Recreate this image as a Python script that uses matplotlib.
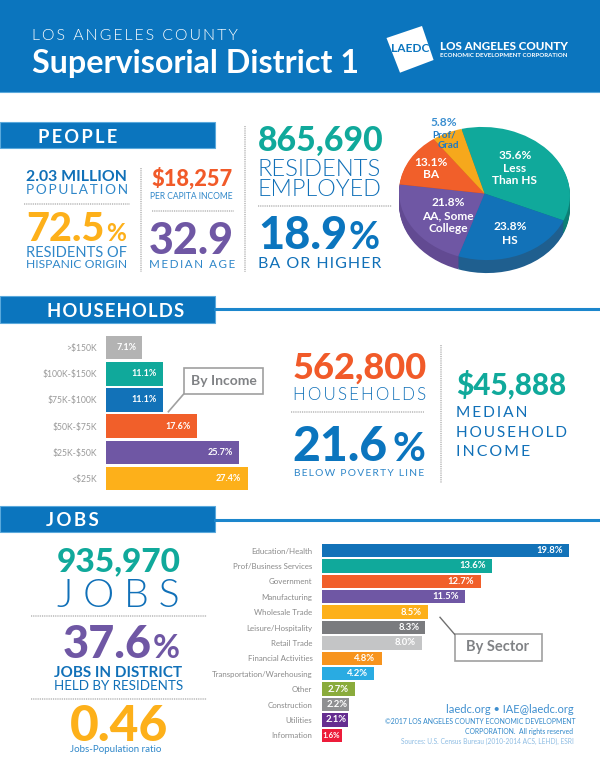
import matplotlib
matplotlib.use("Agg")
import matplotlib.pyplot as plt
from matplotlib.patches import Rectangle, Polygon
from matplotlib.transforms import Affine2D

FAM = ['Lato', 'DejaVu Sans']
plt.rcParams['font.family'] = FAM

BLUE = '#0B75BE'; LBLUE = '#2F87C9'; TEAL = '#10A99B'; ORANGE = '#F15A29'
PURPLE = '#6F57A4'; YELLOW = '#FDB01A'; GRAY = '#808285'

edu_labels = ['Less\nThan HS', 'HS', 'AA, Some\nCollege', 'BA', 'Prof/\nGrad']
edu_values = [35.6, 23.8, 21.8, 13.1, 5.8]
edu_colors = [TEAL, '#1272B8', PURPLE, '#F15F2A', '#F6A81C']
edu_dark = ['#0C7F75', '#1F5F8F', '#624A92', '#B5461F', '#B97E14']

income_labels = ['>\\$150K', '\\$100K-\\$150K', '\\$75K-\\$100K', '\\$50K-\\$75K', '\\$25K-\\$50K', '<\\$25K']
income_values = [7.1, 11.1, 11.1, 17.6, 25.7, 27.4]
income_colors = ['#B3B3B3', TEAL, '#1272B8', '#F15F2A', PURPLE, YELLOW]

sector_labels = ['Education/Health', 'Prof/Business Services', 'Government', 'Manufacturing',
                 'Wholesale Trade', 'Leisure/Hospitality', 'Retail Trade', 'Financial Activities',
                 'Transportation/Warehousing', 'Other', 'Construction', 'Utilities', 'Information']
sector_values = [19.8, 13.6, 12.7, 11.5, 8.5, 8.3, 8.0, 4.8, 4.2, 2.7, 2.2, 2.1, 1.6]
sector_colors = ['#1272B8', TEAL, '#F15F2A', PURPLE, YELLOW, '#7A7B7E', '#C4C5C6', '#F7941E',
                 '#29ABE2', '#8AAB3C', '#8F9092', '#652D90', '#ED1C3A']

fig = plt.figure(figsize=(6, 7.76), dpi=100, facecolor='white')
bg = fig.add_axes([0, 0, 1, 1])
bg.set_xlim(0, 600); bg.set_ylim(776, 0); bg.axis('off')
rend = fig.canvas.get_renderer()

HAIR = '\u200a'; THIN = '\u2009'
LIGHT = 300


def fit(s, x0, x1, yc, color, weight='normal', track='', base=None, cap=0.72):
    """Real text whose width runs from x0 to x1, vertically centred on yc by cap height."""
    shown = track.join(s) if track else s
    t = bg.text(x0, yc, shown, color=color, fontweight=weight, fontsize=10, ha='left',
                va='baseline', family=FAM)
    w = t.get_window_extent(rend).width
    size = 10 * (x1 - x0) / w
    t.set_fontsize(size)
    bl = base if base is not None else yc + cap * size * (100 / 72) / 2
    t.set_y(bl)
    return bl


def rect(x0, y0, x1, y1, fc, ec='none', lw=0):
    bg.add_patch(Rectangle((x0, y0), x1 - x0, y1 - y0, fc=fc, ec=ec, lw=lw))


def dots(x0, x1, y0, y1):
    bg.plot([x0, x1], [y0, y1], color='#B0B0B0', lw=1.1, ls=(0, (0.6, 0.6)), solid_capstyle='butt')


# Header
rect(0, 0, 600, 92, BLUE)
bg.plot([0, 600], [92, 92], color='#5AA9DC', lw=0.8)
fit('LOS ANGELES COUNTY', 32, 238, 34.5, 'white', LIGHT, track=THIN)
fit('Supervisorial District 1', 32, 360, 61.5, 'white', 'bold')
bg.add_patch(Polygon([(386.5, 38), (422, 26), (433.6, 60), (400, 72.7)], fc='white', ec='none'))
fit('LAEDC', 391, 429, 48, BLUE, 'bold')
fit('LOS ANGELES COUNTY', 440, 568, 46, 'white', 'black')
fit('ECONOMIC DEVELOPMENT CORPORATION', 440, 568, 54.7, 'white', 'bold')

# Section bands
for y0, y1, line in [(122, 148, None), (296, 322.7, 309), (506, 532, 520)]:
    if line:
        bg.plot([215, 600], [line, line], color='#1C86CC', lw=2.2)
    rect(0, y0, 215, y1, BLUE, '#5AA9DC', 0.8)
fit('PEOPLE', 38, 117, 136, 'white', 'bold', track=THIN)
fit('HOUSEHOLDS', 46.7, 183.7, 310, 'white', 'bold', track=HAIR)
fit('JOBS', 46, 98.7, 519.3, 'white', 'bold', track=THIN)

# People stats
fit('2.03 MILLION', 26, 127.5, 175, '#1070B8', 'bold')
fit('POPULATION', 26, 127.5, 189, LBLUE, 'normal', track=THIN)
dots(24, 130, 203.5, 203.5)
b = fit('72.5', 26, 104, 227, YELLOW, 'black')
fit('%', 106, 126, 227, YELLOW, 'bold', base=b)
fit('RESIDENTS OF', 26, 126, 251.7, LBLUE)
fit('HISPANIC ORIGIN', 26, 126, 264, LBLUE)
dots(140.5, 140.5, 168, 272)
fit('\\$18,257', 151, 232.7, 178, ORANGE, 'black')
fit('PER CAPITA INCOME', 150, 233, 196, LBLUE)
dots(152, 233.5, 210.7, 210.7)
fit('32.9', 149, 234, 239, PURPLE, 'black')
fit('MEDIAN AGE', 149, 234, 263.7, LBLUE, 'normal', track=THIN)
dots(245, 245, 126, 272)
fit('865,690', 258, 383, 139, TEAL, 'black')
fit('RESIDENTS', 258, 382, 167.7, '#1070B8', LIGHT)
fit('EMPLOYED', 258, 382, 187.7, '#1070B8', LIGHT)
dots(258, 392, 205.7, 205.7)
b = fit('18.9', 258, 347, 233, BLUE, 'black')
fit('%', 349, 380, 233, BLUE, 'bold', base=b)
fit('BA OR HIGHER', 258, 380, 262, '#1070B8', 'normal', track=HAIR)

# Pie
ax_pie = fig.add_axes([0, 0, 1, 1])
ax_pie.patch.set_alpha(0)


def pie_layer(colors, drop):
    wedges, _ = ax_pie.pie(edu_values, colors=colors, startangle=108, counterclock=False)
    tr = Affine2D().scale(85.5, 66.5).rotate_deg(-3).translate(484.5, 776 - 193.5 - drop) + ax_pie.transData
    for w in wedges:
        w.set_transform(tr)
        w.set_clip_on(False)


for d in range(13, 0, -1):
    pie_layer(edu_dark, d)
pie_layer(edu_colors, 0)
ax_pie.set_aspect('auto')
ax_pie.set_xlim(0, 600); ax_pie.set_ylim(0, 776); ax_pie.axis('off')

pie_text_pos = [(515, [155.7, 168, 181]), (510, [227, 241]), (448, [203, 216, 229]), (430.7, [162.7, 174])]
for lab, val, (x, ys) in zip(edu_labels, edu_values, pie_text_pos):
    for line, y in zip([f'{val}%'] + lab.split('\n'), ys):
        ax_pie.text(x, 776 - y, line, color='white', fontsize=8.6, fontweight='bold', ha='center', va='center')
ax_pie.text(444, 776 - 123, f'{edu_values[4]}%', color='#3A8ED0', fontsize=8.6, fontweight='bold', ha='center', va='center')
ax_pie.text(444, 776 - 135, 'Prof/', color='#1C78C4', fontsize=7, fontweight='bold', ha='center', va='center')
ax_pie.text(448, 776 - 145.5, 'Grad', color='#1C78C4', fontsize=7, fontweight='bold', ha='center', va='center')


def hbars(labels, values, colors, x0, px_per_unit, x1, ytop, pitch, height, tick_fs, val_fs, tick_col):
    n = len(values)
    y1 = ytop + pitch * n
    ax = fig.add_axes([x0 / 600, 1 - y1 / 776, (x1 - x0) / 600, (y1 - ytop) / 776])
    ax.patch.set_alpha(0)
    ax.set_xlim(0, (x1 - x0) / px_per_unit)
    ax.set_ylim(n - 0.5, -0.5)
    bars = ax.barh(range(n), values, height=height, color=colors, linewidth=0)
    ax.bar_label(bars, labels=[f'{v}%' for v in values], padding=-4.5, color='white',
                 fontsize=val_fs, fontweight='bold', label_type='edge')
    for t, v in zip(ax.texts, values):
        t.set_ha('right')
        if v * px_per_unit < 30:
            t.xyann = (-1, t.xyann[1])
            t.set_fontsize(val_fs * min(1, (v * px_per_unit) / 24))
    ax.set_yticks(range(n), labels, fontsize=tick_fs, color=tick_col)
    ax.tick_params(axis='y', length=0, pad=6.5)
    ax.set_xticks([])
    for s in ax.spines.values():
        s.set_visible(False)
    return ax


hbars(income_labels, income_values, income_colors, 105.6, 5.18, 260, 334.5, 26.2, 0.9, 6.2, 6.5, '#9A9A9A')
hbars(sector_labels, sector_values, sector_colors, 321.5, 12.52, 590, 542.8, 15.4, 0.87, 5.7, 6.8, '#8A8A8A')

# Households stats
rect(183.7, 367.7, 263.3, 394, 'white', '#A0A0A0', 1.2)
bg.plot([183.7, 168.4], [394, 411.7], color='#A0A0A0', lw=1.2)
bg.text(223.5, 381.3, 'By Income', color=GRAY, fontsize=10, fontweight='bold', ha='center', va='center', zorder=5)
fit('562,800', 292.8, 426.7, 366, ORANGE, 'black')
fit('HOUSEHOLDS', 292.8, 426.7, 393.7, '#1070B8', LIGHT, track=THIN)
dots(291, 424, 412, 412)
b = fit('21.6', 292.8, 388, 444, BLUE, 'black')
fit('%', 392, 425, 444, BLUE, 'bold', base=b)
fit('BELOW POVERTY LINE', 293.5, 425, 472, LBLUE, 'normal', track=THIN)
dots(441, 441, 345, 483)
fit('\\$45,888', 456, 567, 384, TEAL, 'black')
fit('MEDIAN', 456, 527, 411.3, '#1070B8', 'normal', track=THIN)
fit('HOUSEHOLD', 456, 567, 431.3, '#1070B8', 'normal', track=THIN)
fit('INCOME', 456, 529, 450.7, '#1070B8', 'normal', track=THIN)

# Jobs stats
fit('935,970', 56.6, 180, 559.3, TEAL, 'black')
fit('JOBS', 56.6, 180, 593, '#1070B8', LIGHT, track=THIN + THIN)
dots(31, 206.7, 616, 616)
b = fit('37.6', 62.4, 151, 641.7, PURPLE, 'black')
fit('%', 153, 180, 641.7, PURPLE, 'bold', base=b)
fit('JOBS IN DISTRICT', 54, 182, 671.7, '#1070B8', 'bold')
fit('HELD BY RESIDENTS', 54, 182, 685, '#1070B8', 'normal')
dots(31, 206.7, 699, 699)
fit('0.46', 69.6, 167, 723.3, YELLOW, 'black')
fit('Jobs-Population ratio', 69.6, 161.5, 748.3, LBLUE)

rect(454.6, 634.3, 541.5, 660.7, 'white', '#A0A0A0', 1.2)
bg.plot([454.6, 440], [634.3, 617.3], color='#707070', lw=1.0)
bg.text(498, 646.7, 'By Sector', color=GRAY, fontsize=10.5, fontweight='bold', ha='center', va='center')

fit('laedc.org \u2022 IAE@laedc.org', 445.8, 573, 709.3, '#3F8FCF')
fit('\u00a92017 LOS ANGELES COUNTY ECONOMIC DEVELOPMENT', 385.4, 573, 721.7, '#2F87C9')
fit('CORPORATION.  All rights reserved', 465, 573, 731.3, '#2F87C9')
fit('Sources: U.S. Census Bureau (2010-2014 ACS, LEHD), ESRI', 401, 573, 741.3, '#8DBCE3')

fig.savefig('out.png', dpi=100, facecolor='white')
